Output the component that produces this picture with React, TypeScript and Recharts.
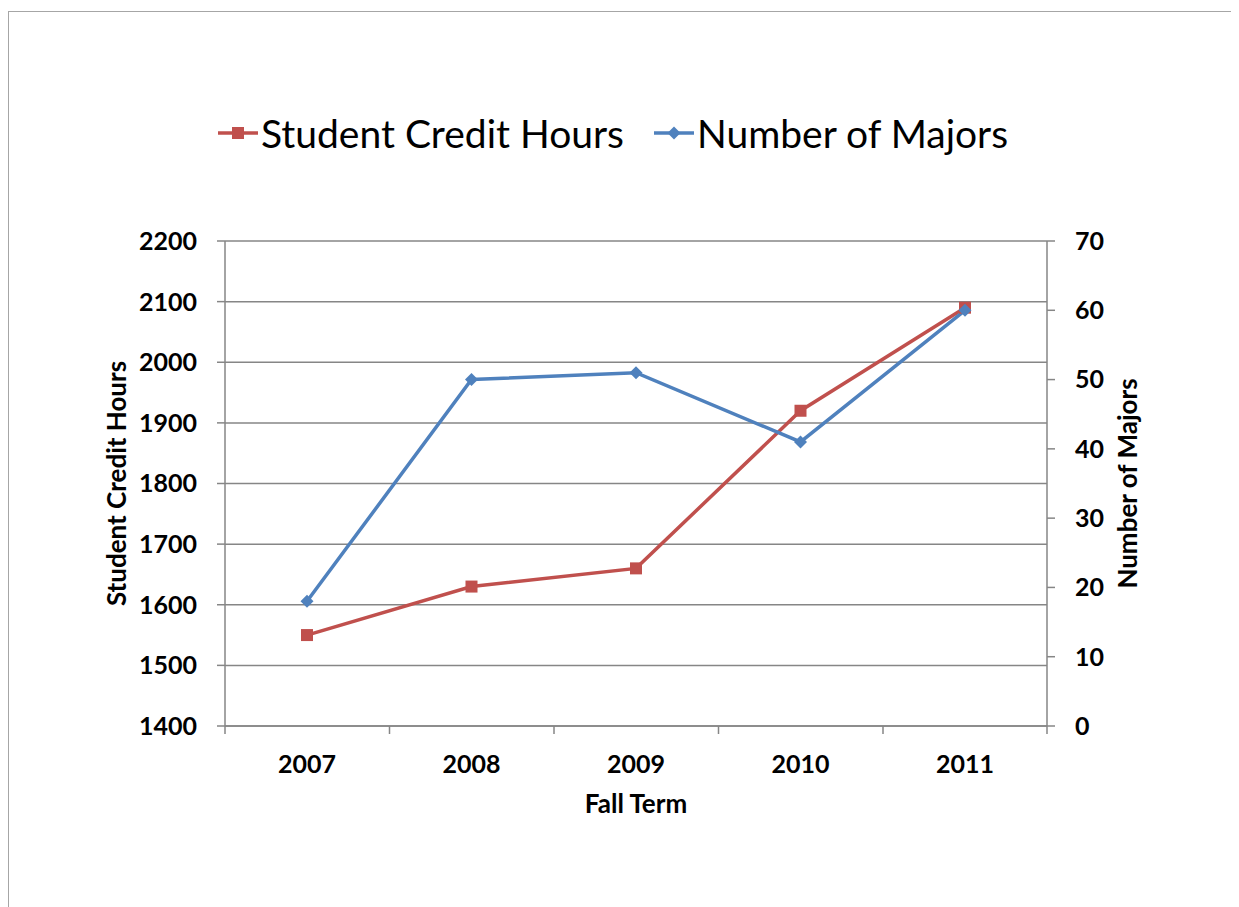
import React from 'react';
import { LineChart, Line, XAxis, YAxis, CartesianGrid, Legend, Label } from 'recharts';

const years = ['2007', '2008', '2009', '2010', '2011'];
const creditHours = [1550, 1630, 1660, 1920, 2090];
const majorsCount = [18, 50, 51, 41, 60];
const hourTicks = [1400, 1500, 1600, 1700, 1800, 1900, 2000, 2100, 2200];
const majorTicks = [0, 10, 20, 30, 40, 50, 60, 70];

const RED = '#C0504D';
const BLUE = '#4F81BD';
const AXIS = '#868686';
const FONT = 'Lato, "Open Sans", sans-serif';
const HALF_BAND = 82;

const data = years.map((year, i) => ({ year, hours: creditHours[i], majors: majorsCount[i] }));

const SquareDot = (props: any) => {
  const { cx, cy } = props;
  if (cx == null || cy == null) return null;
  return <rect x={cx - 6} y={cy - 6} width={12} height={12} fill={RED} />;
};

const DiamondDot = (props: any) => {
  const { cx, cy } = props;
  if (cx == null || cy == null) return null;
  return <path d={`M${cx},${cy - 6.5}L${cx + 6.5},${cy}L${cx},${cy + 6.5}L${cx - 6.5},${cy}Z`} fill={BLUE} />;
};

const YearTick = (props: any) => {
  const { x, y, payload } = props;
  const last = payload.value === years[years.length - 1];
  return (
    <g>
      <line x1={x - HALF_BAND} y1={y - 10} x2={x - HALF_BAND} y2={y - 2} stroke={AXIS} strokeWidth={1.5} />
      {last && <line x1={x + HALF_BAND} y1={y - 10} x2={x + HALF_BAND} y2={y - 2} stroke={AXIS} strokeWidth={1.5} />}
      <text x={x} y={y + 37} textAnchor="middle" fontFamily={FONT} fontWeight="bold" fontSize={25} fill="#000">
        {payload.value}
      </text>
    </g>
  );
};

const LegendIcon = ({ color, marker }: { color: string; marker: 'square' | 'diamond' }) => (
  <svg width={40} height={14} style={{ marginRight: 3 }}>
    <line x1={0} y1={7} x2={40} y2={7} stroke={color} strokeWidth={3.5} />
    {marker === 'square' ? (
      <rect x={14} y={1} width={12} height={12} fill={color} />
    ) : (
      <path d="M20,0.5L26.5,7L20,13.5L13.5,7Z" fill={color} />
    )}
  </svg>
);

const ChartLegend = () => (
  <div style={{ display: 'flex', alignItems: 'center', fontFamily: FONT, fontSize: 39, color: '#000', whiteSpace: 'nowrap' }}>
    <LegendIcon color={RED} marker="square" />
    <span>Student Credit Hours</span>
    <span style={{ width: 30 }} />
    <LegendIcon color={BLUE} marker="diamond" />
    <span>Number of Majors</span>
  </div>
);

const tickStyle = { fontFamily: FONT, fontWeight: 'bold' as const, fontSize: 25, fill: '#000' };
const titleStyle = { fontFamily: FONT, fontWeight: 'bold' as const, fontSize: 26, fill: '#000' };

export default function App() {
  return (
    <div style={{ position: 'relative', width: 1231, height: 899 }}>
      <div
        style={{
          position: 'absolute',
          left: 0,
          top: 3,
          width: 1240,
          height: 900,
          borderTop: '1.5px solid #a6a6a6',
          borderLeft: '1.5px solid #a6a6a6',
          boxSizing: 'border-box',
        }}
      />
      <LineChart
        width={1231}
        height={899}
        data={data}
        margin={{ top: 233, right: 72, bottom: 91, left: 97 }}
        style={{ position: 'absolute', left: 0, top: 0 }}
      >
        <CartesianGrid yAxisId="left" vertical={false} stroke={AXIS} strokeWidth={1.5} />
        <XAxis
          dataKey="year"
          padding={{ left: HALF_BAND, right: HALF_BAND }}
          height={90}
          tickSize={8}
          tickMargin={2}
          tickLine={false}
          axisLine={{ stroke: AXIS, strokeWidth: 1.5 }}
          tick={<YearTick />}
          interval={0}
        >
          <Label value="Fall Term" position="insideBottom" offset={3} style={titleStyle} />
        </XAxis>
        <YAxis
          yAxisId="left"
          width={120}
          domain={[1400, 2200]}
          ticks={hourTicks}
          interval={0}
          tickSize={8}
          tickMargin={20}
          tickLine={{ stroke: AXIS, strokeWidth: 1.5 }}
          axisLine={{ stroke: AXIS, strokeWidth: 1.5 }}
          tick={tickStyle}
        >
          <Label value="Student Credit Hours" angle={-90} position="center" dx={-48} style={titleStyle} />
        </YAxis>
        <YAxis
          yAxisId="right"
          orientation="right"
          width={120}
          domain={[0, 70]}
          ticks={majorTicks}
          interval={0}
          tickSize={8}
          tickMargin={20}
          tickLine={{ stroke: AXIS, strokeWidth: 1.5 }}
          axisLine={{ stroke: AXIS, strokeWidth: 1.5 }}
          tick={tickStyle}
        >
          <Label value="Number of Majors" angle={-90} position="center" dx={21} style={titleStyle} />
        </YAxis>
        <Legend
          layout="horizontal"
          verticalAlign="middle"
          align="center"
          content={<ChartLegend />}
          wrapperStyle={{ top: 102, left: 210, width: 'auto' }}
        />
        <Line
          yAxisId="left"
          dataKey="hours"
          name="Student Credit Hours"
          stroke={RED}
          strokeWidth={3.5}
          dot={<SquareDot />}
          activeDot={false}
          isAnimationActive={false}
        />
        <Line
          yAxisId="right"
          dataKey="majors"
          name="Number of Majors"
          stroke={BLUE}
          strokeWidth={3.5}
          dot={<DiamondDot />}
          activeDot={false}
          isAnimationActive={false}
        />
      </LineChart>
    </div>
  );
}
